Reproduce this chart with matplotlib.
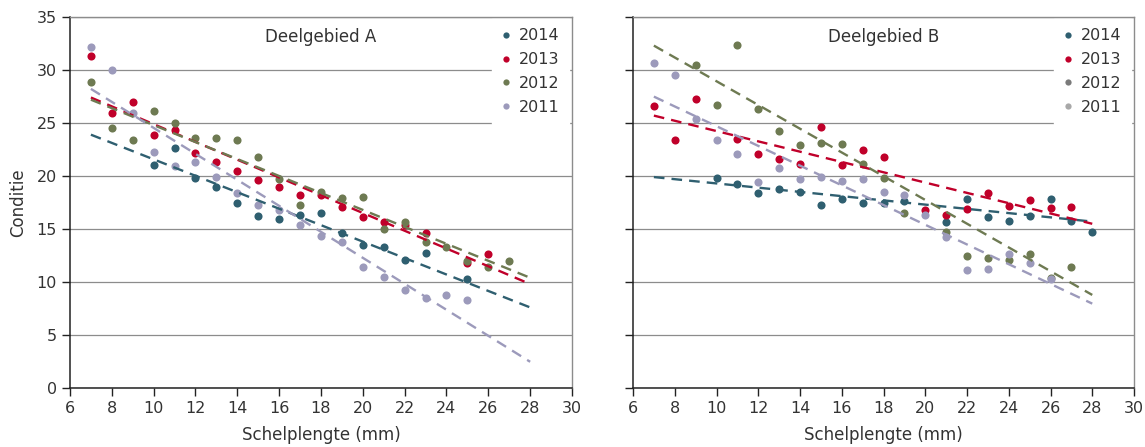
import numpy as np
import matplotlib
matplotlib.use("Agg")
import matplotlib.pyplot as plt
from matplotlib.lines import Line2D

plt.rcParams["font.family"] = ["DejaVu Sans"]
plt.rcParams["font.size"] = 11

nan = np.nan
lengths = list(range(7, 29))
years = ["2014", "2013", "2012", "2011"]
colors = ["#2f5f70", "#c0002a", "#6e7a52", "#9c9abb"]
legend_colors_b = ["#2f5f70", "#c0002a", "#7a7a7a", "#a8a8a8"]

# Deelgebied A, condition per shell length (7..28 mm)
a_2014 = [nan, nan, nan, 21.0, 22.6, 19.8, 19.0, 17.5, 16.2, 15.9, 16.3, 16.5,
          14.6, 13.5, 13.3, 12.1, 12.7, nan, 10.3, nan, nan, nan]
a_2013 = [31.3, 25.9, 27.0, 23.9, 24.3, 22.2, 21.3, 20.5, 19.6, 19.0, 18.2, 18.2,
          17.1, 16.1, 15.7, 15.4, 14.6, nan, 11.8, 12.6, nan, nan]
a_2012 = [28.9, 24.5, 23.4, 26.1, 25.0, 23.6, 23.6, 23.4, 21.8, 19.7, 17.3, 18.5,
          17.9, 18.0, 15.0, 15.7, 13.8, 13.3, 12.0, 11.4, 12.0, nan]
a_2011 = [32.2, 30.0, 25.9, 22.3, 20.9, 21.3, 19.9, 18.4, 17.3, 16.8, 15.4, 14.3,
          13.8, 11.4, 10.5, 9.2, 8.5, 8.8, 8.3, nan, nan, nan]

# Deelgebied B
b_2014 = [nan, nan, nan, 19.8, 19.2, 18.4, 18.8, 18.5, 17.3, 17.8, 17.5, 17.5,
          17.6, nan, 15.7, 17.8, 16.1, 15.8, 16.2, 17.8, 15.8, 14.7]
b_2013 = [26.6, 23.4, 27.3, nan, 23.5, 22.1, 21.6, 21.1, 24.6, 21.0, 22.5, 21.8,
          nan, 16.8, 16.3, 16.9, 18.4, 17.2, 17.7, 17.0, 17.1, nan]
b_2012 = [nan, nan, 30.5, 26.7, 32.4, 26.3, 24.2, 22.9, 23.1, 23.0, 21.1, 19.8,
          16.5, nan, 14.7, 12.5, 12.3, 12.1, 12.6, 10.4, 11.4, nan]
b_2011 = [30.7, 29.5, 25.4, 23.4, 22.1, 19.4, 20.8, 19.7, 19.9, 19.5, 19.7, 18.5,
          18.2, 16.3, 14.2, 11.1, 11.2, 12.6, 11.8, 10.3, nan, nan]

# linear trendlines (slope, intercept)
a_slope = [-0.776, -0.838, -0.80, -1.226]
a_inter = [29.33, 33.27, 32.8, 36.8]
b_slope = [-0.20, -0.486, -1.12, -0.93]
b_inter = [21.3, 29.1, 40.14, 34.0]
trend_x = [7, 28]

fig = plt.figure(figsize=(11.45, 4.47), dpi=100)
ax_a = fig.add_axes([70 / 1145, 59 / 447, 502 / 1145, 371 / 447])
ax_b = fig.add_axes([633 / 1145, 59 / 447, 501 / 1145, 371 / 447])

panels = [
    (ax_a, "Deelgebied A", [a_2014, a_2013, a_2012, a_2011], a_slope, a_inter, colors),
    (ax_b, "Deelgebied B", [b_2014, b_2013, b_2012, b_2011], b_slope, b_inter, legend_colors_b),
]

for ax, title, series, slopes, inters, leg_cols in panels:
    for vals, col in zip(series, colors):
        ax.scatter(lengths, vals, s=34, color=col, zorder=3, linewidths=0)
    for sl, ic, col in zip(slopes, inters, colors):
        ty = [sl * x + ic for x in trend_x]
        ax.plot(trend_x, ty, color=col, lw=1.7, dashes=(4.5, 3), zorder=4)

    ax.set_xlim(6, 30)
    ax.set_ylim(0, 35)
    ax.set_xticks(range(6, 31, 2))
    ax.set_yticks(range(0, 36, 5))
    ax.yaxis.grid(True, color="#8c8c8c", lw=0.9)
    ax.set_axisbelow(True)
    for s in ["left", "bottom"]:
        ax.spines[s].set_color("#222222")
        ax.spines[s].set_linewidth(1.1)
    for s in ["top", "right"]:
        ax.spines[s].set_color("#8c8c8c")
        ax.spines[s].set_linewidth(1.0)
    ax.tick_params(direction="out", length=6, width=1, color="#222222",
                   labelsize=11.5, labelcolor="#333333")
    ax.set_xlabel("Schelplengte (mm)", fontsize=12, color="#333333", labelpad=7)
    ax.text(0.50, 0.947, title, transform=ax.transAxes, ha="center", va="center",
            fontsize=12, color="#333333")

    handles = [Line2D([], [], ls="none", marker="o", ms=4.5, mec="none", mfc=c)
               for c in leg_cols]
    leg = ax.legend(handles, years, loc="upper right", bbox_to_anchor=(0.995, 0.995),
                    frameon=True, facecolor="white", edgecolor="white", framealpha=1,
                    fancybox=False, handlelength=0.6, handletextpad=0.5,
                    labelspacing=0.55, borderaxespad=0, borderpad=0.6, fontsize=11.5)
    for t in leg.get_texts():
        t.set_color("#333333")
    leg.set_zorder(5)

ax_a.set_ylabel("Conditie", fontsize=12, color="#333333", labelpad=7)
ax_b.set_yticklabels([])

fig.savefig("out.png", dpi=100)
